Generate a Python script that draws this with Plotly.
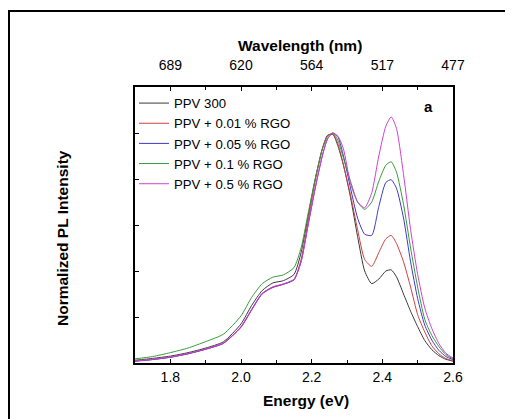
import plotly.graph_objects as go

energy = [1.70, 1.75, 1.80, 1.85, 1.90, 1.95, 2.00, 2.03, 2.06, 2.09, 2.12, 2.15, 2.17, 2.19,
          2.21, 2.23, 2.245, 2.26, 2.275, 2.29, 2.31, 2.33, 2.35, 2.37, 2.39, 2.41, 2.425,
          2.44, 2.46, 2.48, 2.50, 2.52, 2.54, 2.56, 2.58, 2.60]

ppv300 = [0.012, 0.020, 0.030, 0.045, 0.065, 0.092, 0.170, 0.250, 0.315, 0.348, 0.358, 0.385, 0.48, 0.64,
          0.80, 0.93, 0.99, 0.995, 0.94, 0.86, 0.72, 0.55, 0.40, 0.345, 0.365, 0.40, 0.405,
          0.375, 0.30, 0.225, 0.158, 0.098, 0.058, 0.032, 0.016, 0.008]

rgo001 = [0.008, 0.015, 0.025, 0.040, 0.060, 0.085, 0.155, 0.230, 0.300, 0.328, 0.342, 0.362, 0.45, 0.62,
          0.79, 0.93, 0.99, 0.995, 0.95, 0.86, 0.73, 0.58, 0.45, 0.42, 0.48, 0.54, 0.555,
          0.52, 0.44, 0.33, 0.21, 0.135, 0.075, 0.040, 0.019, 0.010]

rgo005 = [0.008, 0.015, 0.025, 0.040, 0.060, 0.086, 0.157, 0.232, 0.302, 0.330, 0.343, 0.362, 0.44, 0.60,
          0.76, 0.90, 0.975, 1.0, 0.98, 0.90, 0.76, 0.63, 0.56, 0.555, 0.68, 0.785, 0.797,
          0.76, 0.63, 0.44, 0.28, 0.165, 0.10, 0.055, 0.028, 0.015]

rgo01 = [0.018, 0.028, 0.045, 0.065, 0.093, 0.125, 0.205, 0.285, 0.345, 0.373, 0.383, 0.415, 0.50, 0.65,
         0.80, 0.93, 0.985, 1.0, 0.965, 0.89, 0.79, 0.70, 0.668, 0.70, 0.79, 0.86, 0.875,
         0.83, 0.69, 0.50, 0.33, 0.19, 0.12, 0.072, 0.036, 0.018]

rgo05 = [0.009, 0.016, 0.026, 0.041, 0.061, 0.087, 0.158, 0.233, 0.303, 0.331, 0.344, 0.364, 0.44, 0.60,
         0.76, 0.90, 0.975, 1.0, 0.985, 0.93, 0.78, 0.70, 0.675, 0.74, 0.90, 1.03, 1.07,
         1.02, 0.82, 0.58, 0.385, 0.24, 0.15, 0.085, 0.042, 0.022]

series_names = ["PPV 300", "PPV + 0.01 % RGO", "PPV + 0.05 % RGO", "PPV + 0.1 % RGO", "PPV + 0.5 % RGO"]
series_values = [ppv300, rgo001, rgo005, rgo01, rgo05]
series_colors = ["#3a3a3a", "#d04040", "#3b3bc8", "#3a9a3a", "#d040d0"]

energy_ticks = [1.8, 2.0, 2.2, 2.4, 2.6]
wavelength_ticks = [f"{1240 / e:.0f}" for e in energy_ticks]

FONT = "Liberation Sans, Arial, sans-serif"

# page is offset by the 8px body margin, so the figure is drawn 8px smaller
OFF = 8
PL, PT, PW, PH = 135, 87, 318, 276  # plot area in page pixels


def px(xp):
    return (xp - PL) / PW


def py(yp):
    return (PT + PH - yp) / PH


fig = go.Figure()
for name, vals, col in zip(series_names, series_values, series_colors):
    fig.add_trace(go.Scatter(x=energy, y=vals, name=name, mode="lines",
                             line=dict(color=col, width=1, shape="spline", smoothing=0.6)))

# invisible trace for the top axis
fig.add_trace(go.Scatter(x=[energy[0]], y=[0], xaxis="x2", mode="lines",
                         showlegend=False, hoverinfo="skip", line=dict(width=0)))

fig.update_layout(
    width=513 - OFF, height=419 - OFF,
    margin=dict(l=PL - OFF, r=513 - PL - PW, t=PT - OFF, b=419 - PT - PH),
    paper_bgcolor="white", plot_bgcolor="white",
    font=dict(family=FONT, size=14, color="black"),
    showlegend=True,
    legend=dict(x=px(134), y=py(88), xanchor="left", yanchor="top",
                bgcolor="rgba(0,0,0,0)", font=dict(size=13.2), tracegroupgap=0,
                itemwidth=30),
    xaxis=dict(range=[1.7, 2.6], tick0=1.8, dtick=0.2, ticks="inside", ticklen=4,
               tickformat=".1f",
               tickcolor="black", showline=True, linecolor="black", linewidth=1.5,
               mirror=True, showgrid=False, zeroline=False,
               tickfont=dict(size=14),
               minor=dict(dtick=0.1, tick0=1.7, ticks="inside", ticklen=3, tickcolor="black")),
    xaxis2=dict(range=[1.7, 2.6], overlaying="x", side="top", tickvals=energy_ticks,
                ticktext=wavelength_ticks, ticks="inside", ticklen=4, tickcolor="black",
                ticklabelstandoff=13,
                showline=False, showgrid=False, zeroline=False, tickfont=dict(size=14),
                minor=dict(dtick=0.1, tick0=1.7, ticks="inside", ticklen=3, tickcolor="black")),
    yaxis=dict(range=[0, 1.2], dtick=0.2, ticks="inside", ticklen=4, tickcolor="black",
               showticklabels=False, showline=True, linecolor="black", linewidth=1.5,
               mirror=True, showgrid=False, zeroline=False),
)

fig.add_annotation(text="<b>Wavelength (nm)</b>", xref="paper", yref="paper",
                   x=px(300), y=py(45), showarrow=False,
                   font=dict(size=15.5), xanchor="center", yanchor="middle")
fig.add_annotation(text="<b>Energy (eV)</b>", xref="paper", yref="paper",
                   x=px(306), y=py(400), showarrow=False,
                   font=dict(size=15.5), xanchor="center", yanchor="middle")
fig.add_annotation(text="<b>Normalized PL Intensity</b>", xref="paper", yref="paper",
                   x=px(62), y=py(238), showarrow=False, textangle=-90,
                   font=dict(size=15.5), xanchor="center", yanchor="middle")
fig.add_annotation(text="<b>a</b>", xref="paper", yref="paper",
                   x=px(428), y=py(106), showarrow=False,
                   font=dict(size=15), xanchor="center", yanchor="middle")

fig.add_shape(type="rect", xref="paper", yref="paper",
              x0=px(OFF + 1), x1=px(510),
              y0=py(430), y1=py(11),
              line=dict(color="black", width=2), layer="below")

fig.write_html("out.html")
